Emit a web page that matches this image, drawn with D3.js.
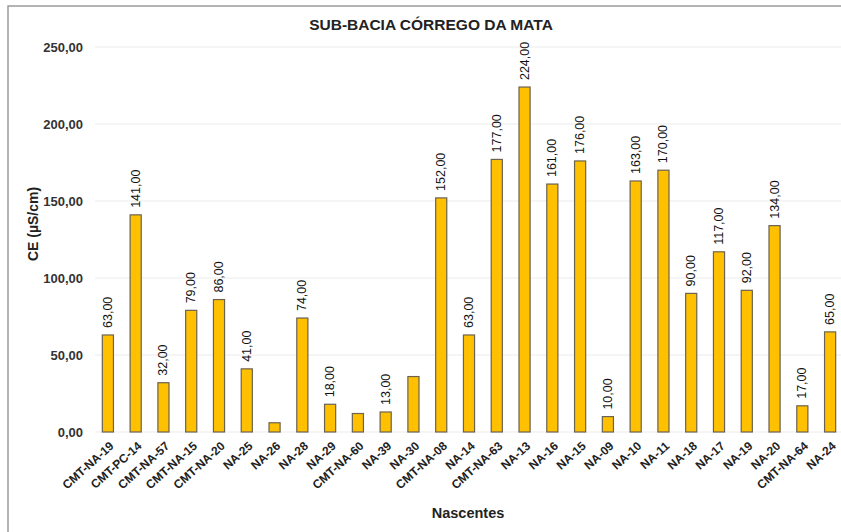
<!DOCTYPE html>
<html>
<head>
<meta charset="utf-8">
<script src="https://cdn.jsdelivr.net/npm/d3@7"></script>
<style>
  html, body { margin: 0; padding: 0; background: #fff; }
  svg { display: block; font-family: "Liberation Sans", Arial, sans-serif; }
</style>
</head>
<body>
<svg id="chart" width="841" height="532"></svg>
<script>
const categories = ["CMT-NA-19","CMT-PC-14","CMT-NA-57","CMT-NA-15","CMT-NA-20","NA-25","NA-26","NA-28","NA-29","CMT-NA-60","NA-39","NA-30","CMT-NA-08","NA-14","CMT-NA-63","NA-13","NA-16","NA-15","NA-09","NA-10","NA-11","NA-18","NA-17","NA-19","NA-20","CMT-NA-64","NA-24"];
const values = [63,141,32,79,86,41,6,74,18,12,13,36,152,63,177,224,161,176,10,163,170,90,117,92,134,17,65];
const showLabel = [1,1,1,1,1,1,0,1,1,0,1,0,1,1,1,1,1,1,1,1,1,1,1,1,1,1,1];
const yTicks = [0,50,100,150,200,250];
const title = "SUB-BACIA CÓRREGO DA MATA";
const yTitle = "CE (µS/cm)";
const xTitle = "Nascentes";

const fmt = v => d3.format(".2f")(v).replace(".", ",");
const svg = d3.select("#chart");

// outer border
svg.append("rect").attr("x", 8).attr("y", 6).attr("width", 850).attr("height", 540)
  .attr("fill", "#fff").attr("stroke", "#9a9a9a").attr("stroke-width", 1.5);

const y = d3.scaleLinear().domain([0, 250]).range([432, 47]);
const x = d3.scaleBand().domain(categories).range([94, 844]).paddingInner(0.6).paddingOuter(0.3);

// gridlines
svg.append("g").selectAll("line").data(yTicks).join("line")
  .attr("x1", 95).attr("x2", 841)
  .attr("y1", d => y(d)).attr("y2", d => y(d))
  .attr("stroke", "#ebebeb").attr("stroke-width", 1.2);

// y tick labels
svg.append("g").selectAll("text").data(yTicks).join("text")
  .attr("x", 83).attr("y", d => y(d))
  .attr("text-anchor", "end").attr("dominant-baseline", "central")
  .attr("font-size", 13).attr("font-weight", "bold").attr("fill", "#333")
  .text(d => fmt(d));

// bars
svg.append("g").selectAll("rect").data(values).join("rect")
  .attr("x", (d, i) => x(categories[i]))
  .attr("y", d => y(d))
  .attr("width", x.bandwidth())
  .attr("height", d => y(0) - y(d))
  .attr("fill", "#FFC000").attr("stroke", "#6b6250").attr("stroke-width", 1.2);

// value labels
svg.append("g").selectAll("text").data(values.map((v, i) => ({v, i})).filter(d => showLabel[d.i]))
  .join("text")
  .attr("transform", d => `translate(${x(categories[d.i]) + x.bandwidth() / 2},${y(d.v) - 7}) rotate(-90)`)
  .attr("text-anchor", "start").attr("dominant-baseline", "central")
  .attr("font-size", 12.5).attr("fill", "#111")
  .text(d => fmt(d.v));

// x labels
svg.append("g").selectAll("text").data(categories).join("text")
  .attr("transform", d => `translate(${x(d) + x.bandwidth() / 2 + 4},${444}) rotate(-42)`)
  .attr("text-anchor", "end").attr("dominant-baseline", "central")
  .attr("font-size", 12).attr("font-weight", "bold").attr("fill", "#222")
  .text(d => d);

// title
svg.append("text").attr("x", 431).attr("y", 24)
  .attr("text-anchor", "middle").attr("dominant-baseline", "central")
  .attr("font-size", 15.5).attr("font-weight", "bold").attr("fill", "#222")
  .text(title);

// y title
svg.append("text").attr("transform", "translate(33,224) rotate(-90)")
  .attr("text-anchor", "middle").attr("dominant-baseline", "central")
  .attr("font-size", 14).attr("font-weight", "bold").attr("fill", "#222")
  .text(yTitle);

// x title
svg.append("text").attr("x", 468).attr("y", 513)
  .attr("text-anchor", "middle").attr("dominant-baseline", "central")
  .attr("font-size", 14.5).attr("font-weight", "bold").attr("fill", "#222")
  .text(xTitle);
</script>
</body>
</html>
